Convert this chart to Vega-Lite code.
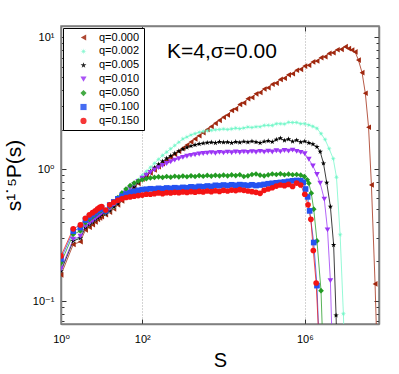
{
"$schema": "https://vega.github.io/schema/vega-lite/v6.json",
"width": 318,
"height": 298,
"autosize": {"type": "none"},
"padding": {"left": 61, "top": 26, "right": 20, "bottom": 50},
"background": "white",
"title": {"text": "K=4,σ=0.00", "orient": "top", "anchor": "start", "frame": "group", "dx": 106, "dy": 27, "offset": -26, "baseline": "alphabetic", "fontSize": 21, "fontWeight": "normal", "font": "Liberation Sans, DejaVu Sans", "color": "#000"},
"config": {
 "view": {"stroke": "#808080", "strokeWidth": 1.5},
 "font": "Liberation Sans, DejaVu Sans",
 "legend": {"orient": "top-left", "offset": 2, "strokeColor": "#000", "fillColor": "#fff", "padding": 4, "labelFontSize": 11, "labelFont": "Liberation Sans, DejaVu Sans", "labelColor": "#000", "symbolSize": 38, "rowPadding": 1.9, "symbolOffset": 11, "labelOffset": 10, "cornerRadius": 0, "symbolStrokeWidth": 0}
},
"data": {"values": [
{"q":"q=0.000","s":1,"v":0.158},{"q":"q=0.000","s":2,"v":0.269},{"q":"q=0.000","s":3,"v":0.282},{"q":"q=0.000","s":4,"v":0.347},{"q":"q=0.000","s":5,"v":0.363},{"q":"q=0.000","s":6,"v":0.380},{"q":"q=0.000","s":7,"v":0.398},{"q":"q=0.000","s":8,"v":0.417},{"q":"q=0.000","s":9,"v":0.427},{"q":"q=0.000","s":10,"v":0.437},
{"q":"q=0.000","s":12.59,"v":0.452},{"q":"q=0.000","s":15.85,"v":0.473},{"q":"q=0.000","s":19.95,"v":0.501},{"q":"q=0.000","s":25.12,"v":0.537},{"q":"q=0.000","s":31.62,"v":0.575},{"q":"q=0.000","s":39.81,"v":0.624},{"q":"q=0.000","s":50.12,"v":0.676},{"q":"q=0.000","s":63.1,"v":0.724},{"q":"q=0.000","s":79.43,"v":0.782},{"q":"q=0.000","s":100,"v":0.841},
{"q":"q=0.000","s":125.9,"v":0.887},{"q":"q=0.000","s":158.5,"v":0.938},{"q":"q=0.000","s":199.5,"v":0.989},{"q":"q=0.000","s":251.2,"v":1.045},{"q":"q=0.000","s":316.2,"v":1.102},{"q":"q=0.000","s":398.1,"v":1.164},{"q":"q=0.000","s":501.2,"v":1.227},{"q":"q=0.000","s":631,"v":1.297},{"q":"q=0.000","s":794.3,"v":1.368},{"q":"q=0.000","s":1000,"v":1.445},
{"q":"q=0.000","s":1259,"v":1.524},{"q":"q=0.000","s":1585,"v":1.611},{"q":"q=0.000","s":1995,"v":1.698},{"q":"q=0.000","s":2512,"v":1.795},{"q":"q=0.000","s":3162,"v":1.892},{"q":"q=0.000","s":3981,"v":2.0},{"q":"q=0.000","s":5012,"v":2.109},{"q":"q=0.000","s":6310,"v":2.228},{"q":"q=0.000","s":7943,"v":2.35},{"q":"q=0.000","s":10000,"v":2.477},
{"q":"q=0.000","s":12589,"v":2.58},{"q":"q=0.000","s":15849,"v":2.79},{"q":"q=0.000","s":19953,"v":2.87},{"q":"q=0.000","s":25119,"v":3.1},{"q":"q=0.000","s":31623,"v":3.19},{"q":"q=0.000","s":39811,"v":3.43},{"q":"q=0.000","s":50119,"v":3.5},{"q":"q=0.000","s":63096,"v":3.73},{"q":"q=0.000","s":79433,"v":3.82},{"q":"q=0.000","s":100000,"v":4.06},
{"q":"q=0.000","s":125893,"v":4.15},{"q":"q=0.000","s":158489,"v":4.41},{"q":"q=0.000","s":199526,"v":4.5},{"q":"q=0.000","s":251189,"v":4.8},{"q":"q=0.000","s":316228,"v":4.9},{"q":"q=0.000","s":398107,"v":5.2},{"q":"q=0.000","s":501187,"v":5.3},{"q":"q=0.000","s":630957,"v":5.63},{"q":"q=0.000","s":794328,"v":5.72},{"q":"q=0.000","s":1000000,"v":6.06},
{"q":"q=0.000","s":1258925,"v":6.15},{"q":"q=0.000","s":1584893,"v":6.52},{"q":"q=0.000","s":1995262,"v":6.62},{"q":"q=0.000","s":2511886,"v":7.02},{"q":"q=0.000","s":3162278,"v":7.13},{"q":"q=0.000","s":3981072,"v":7.56},{"q":"q=0.000","s":5011872,"v":7.65},{"q":"q=0.000","s":6309573,"v":8.06},{"q":"q=0.000","s":7943282,"v":8.12},{"q":"q=0.000","s":10000000,"v":8.5},
{"q":"q=0.000","s":12022644,"v":8.22},{"q":"q=0.000","s":14454398,"v":8.02},{"q":"q=0.000","s":17378008,"v":7.76},{"q":"q=0.000","s":20892961,"v":6.73},{"q":"q=0.000","s":25703958,"v":5.4},{"q":"q=0.000","s":30902954,"v":3.77},{"q":"q=0.000","s":37153523,"v":2.08},{"q":"q=0.000","s":43651583,"v":0.76},{"q":"q=0.000","s":53703180,"v":0.135},{"q":"q=0.000","s":63095734,"v":0.025},

{"q":"q=0.002","s":1,"v":0.172},{"q":"q=0.002","s":2,"v":0.290},{"q":"q=0.002","s":3,"v":0.304},{"q":"q=0.002","s":4,"v":0.365},{"q":"q=0.002","s":5,"v":0.383},{"q":"q=0.002","s":6,"v":0.400},{"q":"q=0.002","s":7,"v":0.418},{"q":"q=0.002","s":8,"v":0.434},{"q":"q=0.002","s":9,"v":0.447},{"q":"q=0.002","s":10,"v":0.459},
{"q":"q=0.002","s":12.59,"v":0.457},{"q":"q=0.002","s":15.85,"v":0.483},{"q":"q=0.002","s":19.95,"v":0.513},{"q":"q=0.002","s":25.12,"v":0.556},{"q":"q=0.002","s":31.62,"v":0.603},{"q":"q=0.002","s":39.81,"v":0.653},{"q":"q=0.002","s":50.12,"v":0.708},{"q":"q=0.002","s":63.1,"v":0.767},{"q":"q=0.002","s":79.43,"v":0.832},{"q":"q=0.002","s":100,"v":0.902},
{"q":"q=0.002","s":125.9,"v":0.966},{"q":"q=0.002","s":158.5,"v":1.035},{"q":"q=0.002","s":199.5,"v":1.109},{"q":"q=0.002","s":251.2,"v":1.189},{"q":"q=0.002","s":316.2,"v":1.274},{"q":"q=0.002","s":398.1,"v":1.349},{"q":"q=0.002","s":501.2,"v":1.429},{"q":"q=0.002","s":631,"v":1.514},{"q":"q=0.002","s":794.3,"v":1.603},{"q":"q=0.002","s":1000,"v":1.698},
{"q":"q=0.002","s":1259,"v":1.758},{"q":"q=0.002","s":1585,"v":1.82},{"q":"q=0.002","s":1995,"v":1.862},{"q":"q=0.002","s":2512,"v":1.905},{"q":"q=0.002","s":3162,"v":1.936},{"q":"q=0.002","s":3981,"v":1.959},{"q":"q=0.002","s":5012,"v":1.977},{"q":"q=0.002","s":6310,"v":1.991},{"q":"q=0.002","s":7943,"v":2.0},{"q":"q=0.002","s":10000,"v":2.02},
{"q":"q=0.002","s":12589,"v":2.0},{"q":"q=0.002","s":15849,"v":2.023},{"q":"q=0.002","s":19953,"v":2.05},{"q":"q=0.002","s":25119,"v":2.03},{"q":"q=0.002","s":31623,"v":2.056},{"q":"q=0.002","s":39811,"v":2.09},{"q":"q=0.002","s":50119,"v":2.07},{"q":"q=0.002","s":63096,"v":2.099},{"q":"q=0.002","s":79433,"v":2.1},{"q":"q=0.002","s":100000,"v":2.15},
{"q":"q=0.002","s":125893,"v":2.153},{"q":"q=0.002","s":158489,"v":2.15},{"q":"q=0.002","s":199526,"v":2.21},{"q":"q=0.002","s":251189,"v":2.213},{"q":"q=0.002","s":316228,"v":2.2},{"q":"q=0.002","s":398107,"v":2.27},{"q":"q=0.002","s":501187,"v":2.259},{"q":"q=0.002","s":630957,"v":2.26},{"q":"q=0.002","s":794328,"v":2.21},{"q":"q=0.002","s":1000000,"v":2.213},
{"q":"q=0.002","s":1258925,"v":2.168},{"q":"q=0.002","s":1584893,"v":2.113},{"q":"q=0.002","s":1995262,"v":2.042},{"q":"q=0.002","s":2511886,"v":1.862},{"q":"q=0.002","s":3162278,"v":1.679},{"q":"q=0.002","s":3981072,"v":1.429},{"q":"q=0.002","s":5011872,"v":1.202},{"q":"q=0.002","s":6025596,"v":0.871},{"q":"q=0.002","s":7413102,"v":0.318},{"q":"q=0.002","s":8912509,"v":0.08},{"q":"q=0.002","s":10000000,"v":0.025},

{"q":"q=0.005","s":1,"v":0.169},{"q":"q=0.005","s":2,"v":0.286},{"q":"q=0.005","s":3,"v":0.300},{"q":"q=0.005","s":4,"v":0.361},{"q":"q=0.005","s":5,"v":0.379},{"q":"q=0.005","s":6,"v":0.396},{"q":"q=0.005","s":7,"v":0.414},{"q":"q=0.005","s":8,"v":0.430},{"q":"q=0.005","s":9,"v":0.443},{"q":"q=0.005","s":10,"v":0.456},
{"q":"q=0.005","s":12.59,"v":0.459},{"q":"q=0.005","s":15.85,"v":0.486},{"q":"q=0.005","s":19.95,"v":0.519},{"q":"q=0.005","s":25.12,"v":0.55},{"q":"q=0.005","s":31.62,"v":0.592},{"q":"q=0.005","s":39.81,"v":0.637},{"q":"q=0.005","s":50.12,"v":0.685},{"q":"q=0.005","s":63.1,"v":0.738},{"q":"q=0.005","s":79.43,"v":0.794},{"q":"q=0.005","s":100,"v":0.851},
{"q":"q=0.005","s":125.9,"v":0.908},{"q":"q=0.005","s":158.5,"v":0.966},{"q":"q=0.005","s":199.5,"v":1.028},{"q":"q=0.005","s":251.2,"v":1.089},{"q":"q=0.005","s":316.2,"v":1.148},{"q":"q=0.005","s":398.1,"v":1.208},{"q":"q=0.005","s":501.2,"v":1.265},{"q":"q=0.005","s":631,"v":1.318},{"q":"q=0.005","s":794.3,"v":1.371},{"q":"q=0.005","s":1000,"v":1.419},
{"q":"q=0.005","s":1259,"v":1.462},{"q":"q=0.005","s":1585,"v":1.5},{"q":"q=0.005","s":1995,"v":1.531},{"q":"q=0.005","s":2512,"v":1.556},{"q":"q=0.005","s":3162,"v":1.574},{"q":"q=0.005","s":3981,"v":1.589},{"q":"q=0.005","s":5012,"v":1.6},{"q":"q=0.005","s":6310,"v":1.585},{"q":"q=0.005","s":7943,"v":1.611},{"q":"q=0.005","s":10000,"v":1.6},
{"q":"q=0.005","s":12589,"v":1.603},{"q":"q=0.005","s":15849,"v":1.585},{"q":"q=0.005","s":19953,"v":1.611},{"q":"q=0.005","s":25119,"v":1.596},{"q":"q=0.005","s":31623,"v":1.622},{"q":"q=0.005","s":39811,"v":1.603},{"q":"q=0.005","s":50119,"v":1.629},{"q":"q=0.005","s":63096,"v":1.607},{"q":"q=0.005","s":79433,"v":1.585},{"q":"q=0.005","s":100000,"v":1.622},
{"q":"q=0.005","s":125893,"v":1.641},{"q":"q=0.005","s":158489,"v":1.614},{"q":"q=0.005","s":199526,"v":1.679},{"q":"q=0.005","s":251189,"v":1.718},{"q":"q=0.005","s":316228,"v":1.652},{"q":"q=0.005","s":398107,"v":1.69},{"q":"q=0.005","s":501187,"v":1.622},{"q":"q=0.005","s":630957,"v":1.66},{"q":"q=0.005","s":794328,"v":1.603},{"q":"q=0.005","s":1000000,"v":1.629},
{"q":"q=0.005","s":1258925,"v":1.585},{"q":"q=0.005","s":1584893,"v":1.549},{"q":"q=0.005","s":1995262,"v":1.479},{"q":"q=0.005","s":2398833,"v":1.358},{"q":"q=0.005","s":2884032,"v":1.109},{"q":"q=0.005","s":3467369,"v":0.792},{"q":"q=0.005","s":4265795,"v":0.521},{"q":"q=0.005","s":5128614,"v":0.267},{"q":"q=0.005","s":5888437,"v":0.078},{"q":"q=0.005","s":6456542,"v":0.025},

{"q":"q=0.010","s":1,"v":0.175},{"q":"q=0.010","s":2,"v":0.294},{"q":"q=0.010","s":3,"v":0.310},{"q":"q=0.010","s":4,"v":0.370},{"q":"q=0.010","s":5,"v":0.388},{"q":"q=0.010","s":6,"v":0.406},{"q":"q=0.010","s":7,"v":0.423},{"q":"q=0.010","s":8,"v":0.439},{"q":"q=0.010","s":9,"v":0.452},{"q":"q=0.010","s":10,"v":0.465},
{"q":"q=0.010","s":12.59,"v":0.468},{"q":"q=0.010","s":15.85,"v":0.501},{"q":"q=0.010","s":19.95,"v":0.54},{"q":"q=0.010","s":25.12,"v":0.569},{"q":"q=0.010","s":31.62,"v":0.617},{"q":"q=0.010","s":39.81,"v":0.665},{"q":"q=0.010","s":50.12,"v":0.716},{"q":"q=0.010","s":63.1,"v":0.764},{"q":"q=0.010","s":79.43,"v":0.809},{"q":"q=0.010","s":100,"v":0.855},
{"q":"q=0.010","s":125.9,"v":0.902},{"q":"q=0.010","s":158.5,"v":0.946},{"q":"q=0.010","s":199.5,"v":0.989},{"q":"q=0.010","s":251.2,"v":1.028},{"q":"q=0.010","s":316.2,"v":1.067},{"q":"q=0.010","s":398.1,"v":1.104},{"q":"q=0.010","s":501.2,"v":1.14},{"q":"q=0.010","s":631,"v":1.172},{"q":"q=0.010","s":794.3,"v":1.202},{"q":"q=0.010","s":1000,"v":1.23},
{"q":"q=0.010","s":1259,"v":1.253},{"q":"q=0.010","s":1585,"v":1.274},{"q":"q=0.010","s":1995,"v":1.288},{"q":"q=0.010","s":2512,"v":1.303},{"q":"q=0.010","s":3162,"v":1.315},{"q":"q=0.010","s":3981,"v":1.324},{"q":"q=0.010","s":5012,"v":1.337},{"q":"q=0.010","s":6310,"v":1.321},{"q":"q=0.010","s":7943,"v":1.343},{"q":"q=0.010","s":10000,"v":1.33},
{"q":"q=0.010","s":12589,"v":1.349},{"q":"q=0.010","s":15849,"v":1.334},{"q":"q=0.010","s":19953,"v":1.352},{"q":"q=0.010","s":25119,"v":1.34},{"q":"q=0.010","s":31623,"v":1.355},{"q":"q=0.010","s":39811,"v":1.343},{"q":"q=0.010","s":50119,"v":1.361},{"q":"q=0.010","s":63096,"v":1.346},{"q":"q=0.010","s":79433,"v":1.365},{"q":"q=0.010","s":100000,"v":1.349},
{"q":"q=0.010","s":125893,"v":1.368},{"q":"q=0.010","s":158489,"v":1.352},{"q":"q=0.010","s":199526,"v":1.38},{"q":"q=0.010","s":251189,"v":1.361},{"q":"q=0.010","s":316228,"v":1.387},{"q":"q=0.010","s":398107,"v":1.371},{"q":"q=0.010","s":501187,"v":1.396},{"q":"q=0.010","s":630957,"v":1.365},{"q":"q=0.010","s":794328,"v":1.343},{"q":"q=0.010","s":1000000,"v":1.312},
{"q":"q=0.010","s":1258925,"v":1.189},{"q":"q=0.010","s":1584893,"v":1.059},{"q":"q=0.010","s":1995262,"v":0.912},{"q":"q=0.010","s":2398833,"v":0.783},{"q":"q=0.010","s":3019952,"v":0.593},{"q":"q=0.010","s":3630781,"v":0.347},{"q":"q=0.010","s":4265795,"v":0.143},{"q":"q=0.010","s":4786301,"v":0.04},

{"q":"q=0.050","s":1,"v":0.195},{"q":"q=0.050","s":2,"v":0.321},{"q":"q=0.050","s":3,"v":0.340},{"q":"q=0.050","s":4,"v":0.394},{"q":"q=0.050","s":5,"v":0.416},{"q":"q=0.050","s":6,"v":0.434},{"q":"q=0.050","s":7,"v":0.451},{"q":"q=0.050","s":8,"v":0.467},{"q":"q=0.050","s":9,"v":0.479},{"q":"q=0.050","s":10,"v":0.490},
{"q":"q=0.050","s":12.59,"v":0.476},{"q":"q=0.050","s":15.85,"v":0.522},{"q":"q=0.050","s":19.95,"v":0.562},{"q":"q=0.050","s":25.12,"v":0.61},{"q":"q=0.050","s":31.62,"v":0.661},{"q":"q=0.050","s":39.81,"v":0.708},{"q":"q=0.050","s":50.12,"v":0.75},{"q":"q=0.050","s":63.1,"v":0.785},{"q":"q=0.050","s":79.43,"v":0.813},{"q":"q=0.050","s":100,"v":0.832},
{"q":"q=0.050","s":125.9,"v":0.847},{"q":"q=0.050","s":158.5,"v":0.859},{"q":"q=0.050","s":199.5,"v":0.867},{"q":"q=0.050","s":251.2,"v":0.875},{"q":"q=0.050","s":316.2,"v":0.867},{"q":"q=0.050","s":398.1,"v":0.881},{"q":"q=0.050","s":501.2,"v":0.871},{"q":"q=0.050","s":631,"v":0.885},{"q":"q=0.050","s":794.3,"v":0.875},{"q":"q=0.050","s":1000,"v":0.887},
{"q":"q=0.050","s":1259,"v":0.877},{"q":"q=0.050","s":1585,"v":0.891},{"q":"q=0.050","s":1995,"v":0.881},{"q":"q=0.050","s":2512,"v":0.895},{"q":"q=0.050","s":3162,"v":0.885},{"q":"q=0.050","s":3981,"v":0.897},{"q":"q=0.050","s":5012,"v":0.887},{"q":"q=0.050","s":6310,"v":0.899},{"q":"q=0.050","s":7943,"v":0.891},{"q":"q=0.050","s":10000,"v":0.902},
{"q":"q=0.050","s":12589,"v":0.891},{"q":"q=0.050","s":15849,"v":0.906},{"q":"q=0.050","s":19953,"v":0.895},{"q":"q=0.050","s":25119,"v":0.908},{"q":"q=0.050","s":31623,"v":0.881},{"q":"q=0.050","s":39811,"v":0.891},{"q":"q=0.050","s":50119,"v":0.912},{"q":"q=0.050","s":63096,"v":0.92},{"q":"q=0.050","s":79433,"v":0.902},{"q":"q=0.050","s":100000,"v":0.891},
{"q":"q=0.050","s":125893,"v":0.906},{"q":"q=0.050","s":158489,"v":0.92},{"q":"q=0.050","s":199526,"v":0.912},{"q":"q=0.050","s":251189,"v":0.923},{"q":"q=0.050","s":316228,"v":0.908},{"q":"q=0.050","s":398107,"v":0.917},{"q":"q=0.050","s":501187,"v":0.908},{"q":"q=0.050","s":630957,"v":0.912},{"q":"q=0.050","s":794328,"v":0.902},{"q":"q=0.050","s":977237,"v":0.879},
{"q":"q=0.050","s":1148154,"v":0.832},{"q":"q=0.050","s":1258925,"v":0.783},{"q":"q=0.050","s":1445440,"v":0.658},{"q":"q=0.050","s":1659587,"v":0.498},{"q":"q=0.050","s":1995262,"v":0.286},{"q":"q=0.050","s":2511886,"v":0.12},{"q":"q=0.050","s":2884032,"v":0.032},

{"q":"q=0.100","s":1,"v":0.209},{"q":"q=0.100","s":2,"v":0.339},{"q":"q=0.100","s":3,"v":0.361},{"q":"q=0.100","s":4,"v":0.412},{"q":"q=0.100","s":5,"v":0.436},{"q":"q=0.100","s":6,"v":0.453},{"q":"q=0.100","s":7,"v":0.469},{"q":"q=0.100","s":8,"v":0.486},{"q":"q=0.100","s":9,"v":0.498},{"q":"q=0.100","s":10,"v":0.507},
{"q":"q=0.100","s":12.59,"v":0.484},{"q":"q=0.100","s":15.85,"v":0.535},{"q":"q=0.100","s":19.95,"v":0.565},{"q":"q=0.100","s":25.12,"v":0.596},{"q":"q=0.100","s":31.62,"v":0.624},{"q":"q=0.100","s":39.81,"v":0.646},{"q":"q=0.100","s":50.12,"v":0.664},{"q":"q=0.100","s":63.1,"v":0.679},{"q":"q=0.100","s":79.43,"v":0.692},{"q":"q=0.100","s":100,"v":0.7},
{"q":"q=0.100","s":125.9,"v":0.705},{"q":"q=0.100","s":158.5,"v":0.711},{"q":"q=0.100","s":199.5,"v":0.708},{"q":"q=0.100","s":251.2,"v":0.716},{"q":"q=0.100","s":316.2,"v":0.711},{"q":"q=0.100","s":398.1,"v":0.721},{"q":"q=0.100","s":501.2,"v":0.716},{"q":"q=0.100","s":631,"v":0.724},{"q":"q=0.100","s":794.3,"v":0.719},{"q":"q=0.100","s":1000,"v":0.728},
{"q":"q=0.100","s":1259,"v":0.724},{"q":"q=0.100","s":1585,"v":0.735},{"q":"q=0.100","s":1995,"v":0.73},{"q":"q=0.100","s":2512,"v":0.741},{"q":"q=0.100","s":3162,"v":0.736},{"q":"q=0.100","s":3981,"v":0.746},{"q":"q=0.100","s":5012,"v":0.741},{"q":"q=0.100","s":6310,"v":0.755},{"q":"q=0.100","s":7943,"v":0.75},{"q":"q=0.100","s":10000,"v":0.759},
{"q":"q=0.100","s":12589,"v":0.752},{"q":"q=0.100","s":15849,"v":0.762},{"q":"q=0.100","s":19953,"v":0.755},{"q":"q=0.100","s":25119,"v":0.764},{"q":"q=0.100","s":31623,"v":0.759},{"q":"q=0.100","s":39811,"v":0.753},{"q":"q=0.100","s":50119,"v":0.762},{"q":"q=0.100","s":63096,"v":0.752},{"q":"q=0.100","s":79433,"v":0.759},{"q":"q=0.100","s":100000,"v":0.767},
{"q":"q=0.100","s":125893,"v":0.776},{"q":"q=0.100","s":158489,"v":0.782},{"q":"q=0.100","s":199526,"v":0.789},{"q":"q=0.100","s":251189,"v":0.794},{"q":"q=0.100","s":316228,"v":0.8},{"q":"q=0.100","s":398107,"v":0.809},{"q":"q=0.100","s":501187,"v":0.817},{"q":"q=0.100","s":630957,"v":0.822},{"q":"q=0.100","s":794328,"v":0.818},{"q":"q=0.100","s":912011,"v":0.794},
{"q":"q=0.100","s":1047129,"v":0.708},{"q":"q=0.100","s":1174898,"v":0.617},{"q":"q=0.100","s":1318257,"v":0.483},{"q":"q=0.100","s":1659587,"v":0.278},{"q":"q=0.100","s":1995262,"v":0.131},{"q":"q=0.100","s":2290868,"v":0.04},

{"q":"q=0.150","s":1,"v":0.220},{"q":"q=0.150","s":2,"v":0.353},{"q":"q=0.150","s":3,"v":0.378},{"q":"q=0.150","s":4,"v":0.425},{"q":"q=0.150","s":5,"v":0.451},{"q":"q=0.150","s":6,"v":0.468},{"q":"q=0.150","s":7,"v":0.484},{"q":"q=0.150","s":8,"v":0.501},{"q":"q=0.150","s":9,"v":0.513},{"q":"q=0.150","s":10,"v":0.521},
{"q":"q=0.150","s":12.59,"v":0.49},{"q":"q=0.150","s":15.85,"v":0.537},{"q":"q=0.150","s":19.95,"v":0.562},{"q":"q=0.150","s":25.12,"v":0.582},{"q":"q=0.150","s":31.62,"v":0.596},{"q":"q=0.150","s":39.81,"v":0.61},{"q":"q=0.150","s":50.12,"v":0.617},{"q":"q=0.150","s":63.1,"v":0.624},{"q":"q=0.150","s":79.43,"v":0.631},{"q":"q=0.150","s":100,"v":0.637},
{"q":"q=0.150","s":125.9,"v":0.646},{"q":"q=0.150","s":158.5,"v":0.646},{"q":"q=0.150","s":199.5,"v":0.653},{"q":"q=0.150","s":251.2,"v":0.661},{"q":"q=0.150","s":316.2,"v":0.653},{"q":"q=0.150","s":398.1,"v":0.664},{"q":"q=0.150","s":501.2,"v":0.661},{"q":"q=0.150","s":631,"v":0.668},{"q":"q=0.150","s":794.3,"v":0.664},{"q":"q=0.150","s":1000,"v":0.673},
{"q":"q=0.150","s":1259,"v":0.667},{"q":"q=0.150","s":1585,"v":0.676},{"q":"q=0.150","s":1995,"v":0.67},{"q":"q=0.150","s":2512,"v":0.679},{"q":"q=0.150","s":3162,"v":0.673},{"q":"q=0.150","s":3981,"v":0.684},{"q":"q=0.150","s":5012,"v":0.676},{"q":"q=0.150","s":6310,"v":0.687},{"q":"q=0.150","s":7943,"v":0.679},{"q":"q=0.150","s":10000,"v":0.692},
{"q":"q=0.150","s":12589,"v":0.684},{"q":"q=0.150","s":15849,"v":0.695},{"q":"q=0.150","s":19953,"v":0.689},{"q":"q=0.150","s":25119,"v":0.7},{"q":"q=0.150","s":31623,"v":0.692},{"q":"q=0.150","s":39811,"v":0.684},{"q":"q=0.150","s":50119,"v":0.676},{"q":"q=0.150","s":63096,"v":0.668},{"q":"q=0.150","s":79433,"v":0.656},{"q":"q=0.150","s":100000,"v":0.692},
{"q":"q=0.150","s":125893,"v":0.708},{"q":"q=0.150","s":158489,"v":0.724},{"q":"q=0.150","s":199526,"v":0.745},{"q":"q=0.150","s":251189,"v":0.759},{"q":"q=0.150","s":316228,"v":0.75},{"q":"q=0.150","s":398107,"v":0.767},{"q":"q=0.150","s":501187,"v":0.741},{"q":"q=0.150","s":630957,"v":0.785},{"q":"q=0.150","s":794328,"v":0.759},{"q":"q=0.150","s":1000000,"v":0.646},
{"q":"q=0.150","s":1202264,"v":0.537},{"q":"q=0.150","s":1412538,"v":0.417},{"q":"q=0.150","s":1621810,"v":0.242},{"q":"q=0.150","s":1905461,"v":0.137},{"q":"q=0.150","s":2238721,"v":0.05}
]},
"layer": [
 {
  "mark": {"type": "line", "strokeWidth": 0.9, "opacity": 0.85, "clip": true},
  "encoding": {
   "x": {"field": "s", "type": "quantitative", "scale": {"type": "log", "domain": [1, 67108864]},
    "axis": {"orient": "bottom", "values": [1, 100, 1000000], "labelExpr": "datum.value < 10 ? '10⁰' : datum.value < 1000 ? '10²' : '10⁶'", "grid": true, "gridDash": [1, 2], "gridColor": "#a8a8a8", "gridWidth": 1, "tickSize": -5, "tickColor": "#333", "domainColor": "#808080", "domainWidth": 1.5, "labelFontSize": 11, "labelColor": "#000", "labelPadding": 14, "labelOverlap": false, "labelFlush": false, "title": "S", "titleFontSize": 20, "titleFontWeight": "normal", "titleColor": "#000", "titlePadding": 6}},
   "y": {"field": "v", "type": "quantitative", "scale": {"type": "log", "domain": [0.067, 12.2]},
    "axis": {"orient": "left", "values": [0.07, 0.08, 0.09, 0.1, 0.2, 0.3, 0.4, 0.5, 0.6, 0.7, 0.8, 0.9, 1, 2, 3, 4, 5, 6, 7, 8, 9, 10], "labelExpr": "datum.value == 0.1 ? '10⁻¹' : datum.value == 1 ? '10⁰' : datum.value == 10 ? '10¹' : ''", "grid": false, "tickSize": {"condition": {"test": "datum.value == 0.1 || datum.value == 1 || datum.value == 10", "value": -5}, "value": -3}, "tickColor": "#333", "domainColor": "#808080", "domainWidth": 1.5, "labelFontSize": 11, "labelColor": "#000", "labelPadding": 12, "labelOverlap": false, "labelFlush": false, "title": "s¹˙⁵P(s)", "titleFontSize": 21, "titleFontWeight": "normal", "titleColor": "#000", "titlePadding": 8}},
   "color": {"field": "q", "type": "nominal", "scale": {"domain": ["q=0.000", "q=0.002", "q=0.005", "q=0.010", "q=0.050", "q=0.100", "q=0.150"], "range": ["#A0280F", "#74F7C9", "#000000", "#9B35F5", "#239B23", "#2452F0", "#F41414"]}, "legend": {"title": null}}
  }
 },
 {
  "mark": {"type": "point", "filled": true, "size": 32, "opacity": 1, "clip": true},
  "encoding": {
   "x": {"field": "s", "type": "quantitative", "scale": {"type": "log", "domain": [1, 67108864]},
    "axis": {"orient": "top", "values": [1, 100, 1000000], "labels": false, "grid": false, "tickSize": -5, "tickColor": "#333", "domainColor": "#808080", "domainWidth": 1.5, "title": null}},
   "y": {"field": "v", "type": "quantitative", "scale": {"type": "log", "domain": [0.067, 12.2]},
    "axis": {"orient": "right", "values": [0.07, 0.08, 0.09, 0.1, 0.2, 0.3, 0.4, 0.5, 0.6, 0.7, 0.8, 0.9, 1, 2, 3, 4, 5, 6, 7, 8, 9, 10], "labels": false, "grid": false, "tickSize": {"condition": {"test": "datum.value == 0.1 || datum.value == 1 || datum.value == 10", "value": -5}, "value": -3}, "tickColor": "#333", "domainColor": "#808080", "domainWidth": 1.5, "title": null}},
   "color": {"field": "q", "type": "nominal", "scale": {"domain": ["q=0.000", "q=0.002", "q=0.005", "q=0.010", "q=0.050", "q=0.100", "q=0.150"], "range": ["#A0280F", "#74F7C9", "#000000", "#9B35F5", "#239B23", "#2452F0", "#F41414"]}, "legend": {"title": null}},
   "shape": {"field": "q", "type": "nominal", "scale": {"domain": ["q=0.000", "q=0.002", "q=0.005", "q=0.010", "q=0.050", "q=0.100", "q=0.150"], "range": ["triangle-left", "M1,0L0.28,0.12L0.71,0.71L0.12,0.28L0,1L-0.12,0.28L-0.71,0.71L-0.28,0.12L-1,0L-0.28,-0.12L-0.71,-0.71L-0.12,-0.28L0,-1L0.12,-0.28L0.71,-0.71L0.28,-0.12Z", "M0,-1L0.225,-0.309L0.951,-0.309L0.363,0.118L0.588,0.809L0,0.382L-0.588,0.809L-0.363,0.118L-0.951,-0.309L-0.225,-0.309Z", "triangle-down", "diamond", "square", "circle"]}, "legend": {"title": null}}
  }
 }
],
"resolve": {"axis": {"x": "independent", "y": "independent"}}
}
